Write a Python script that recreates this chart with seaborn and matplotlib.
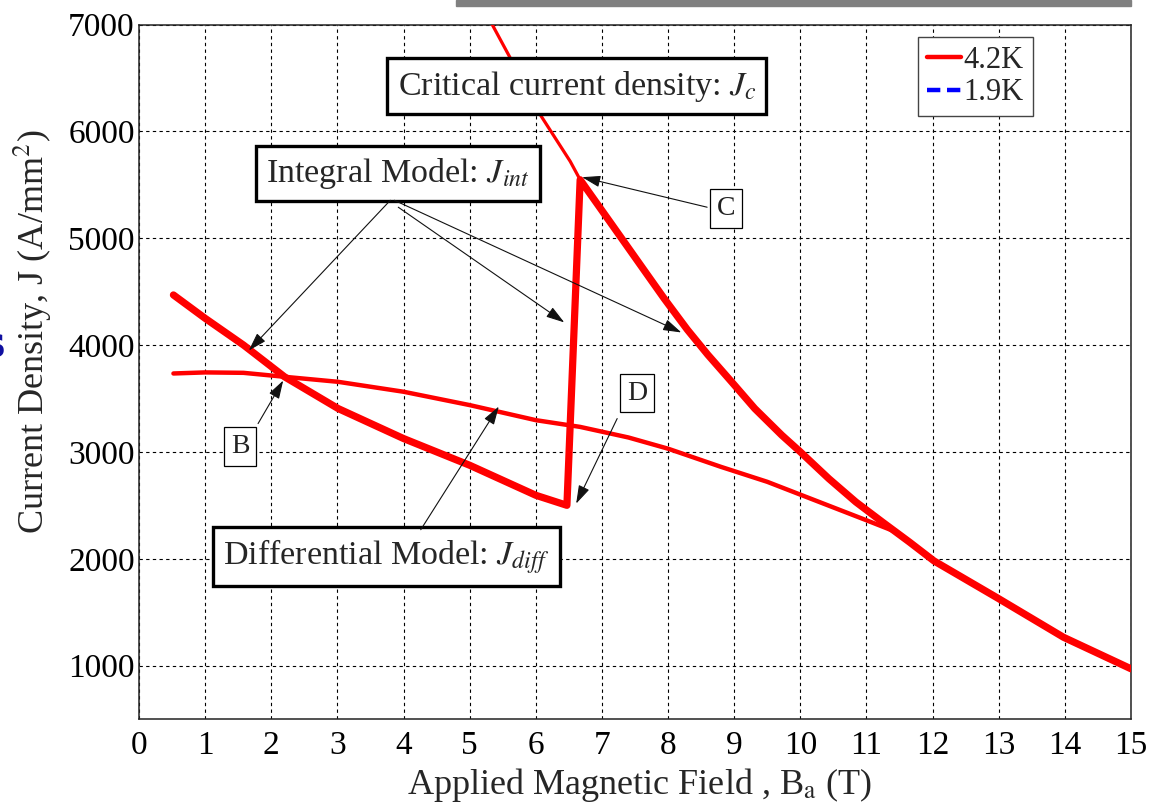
import matplotlib
matplotlib.use("Agg")
import matplotlib.pyplot as plt
from matplotlib.lines import Line2D
from matplotlib.patches import Rectangle
import pandas as pd
import seaborn as sns

# Applied field (T) and current density (A/mm^2) at 4.2 K
jc_field = [5.34, 5.64, 6.05, 6.52, 6.67, 7.13, 7.63, 7.94, 8.29, 8.60,
            8.96, 9.31, 9.72, 10.0, 10.43, 10.84, 11.24, 11.65, 12.02,
            12.97, 13.98, 15.0]
jc_density = [7000, 6656, 6172, 5719, 5547, 5145, 4707, 4436, 4145, 3910,
              3656, 3406, 3156, 3000, 2750, 2531, 2344, 2156, 1980,
              1637, 1265, 970]

int_field = [0.52, 1.0, 1.58, 2.2, 3.01, 4.0, 5.0, 6.0, 6.47, 6.67,
             7.13, 7.63, 7.94, 8.29, 8.60, 8.96, 9.31, 9.72, 10.0, 10.43,
             10.84, 11.24, 11.65, 12.02, 12.97, 13.98, 15.0]
int_density = [4469, 4250, 4000, 3703, 3406, 3125, 2875, 2594, 2500, 5547,
               5145, 4707, 4436, 4145, 3910, 3656, 3406, 3156, 3000, 2750,
               2531, 2344, 2156, 1980, 1637, 1265, 970]

diff_field = [0.52, 1.0, 1.58, 2.2, 3.01, 4.0, 5.0, 6.0, 6.67, 7.4, 8.0,
              8.8, 9.5, 10.0, 10.5, 11.0, 11.45, 11.65, 12.02, 12.97,
              13.98, 15.0]
diff_density = [3734, 3744, 3740, 3703, 3656, 3563, 3438, 3297, 3234, 3135,
                3030, 2860, 2720, 2600, 2480, 2360, 2250, 2156, 1980, 1637,
                1265, 970]

x_ticks = list(range(0, 16))
y_ticks = [1000, 2000, 3000, 4000, 5000, 6000, 7000]
legend_labels = ["4.2K", "1.9K"]

sns.set_theme(style="white")
plt.rcParams["font.family"] = ["Liberation Serif", "DejaVu Serif"]
plt.rcParams["mathtext.fontset"] = "stix"

fig = plt.figure(figsize=(11.5, 8.06), dpi=100)
ax = fig.add_axes([0.1209, 0.1079, 0.8626, 0.8617])

red = "#ff0000"
jc_df = pd.DataFrame({"B": jc_field, "J": jc_density})
int_df = pd.DataFrame({"B": int_field, "J": int_density})
diff_df = pd.DataFrame({"B": diff_field, "J": diff_density})

sns.lineplot(data=jc_df, x="B", y="J", ax=ax, color=red, lw=2.3,
             sort=False, estimator=None, zorder=3)
sns.lineplot(data=diff_df, x="B", y="J", ax=ax, color=red, lw=3.2,
             sort=False, estimator=None, zorder=3)
sns.lineplot(data=int_df, x="B", y="J", ax=ax, color=red, lw=5.2,
             sort=False, estimator=None, zorder=4)

ax.set_xlim(0, 15)
ax.set_ylim(500, 7000)
ax.set_xticks(x_ticks)
ax.set_yticks(y_ticks)
ax.set_xticklabels([str(t) for t in x_ticks])
ax.set_yticklabels([str(t) for t in y_ticks])
ax.tick_params(axis="both", direction="in", length=4, width=0.8,
               labelsize=24, colors="black")
ax.tick_params(axis="x", pad=8)
ax.tick_params(axis="y", pad=3)

ax.grid(True, color="black", lw=0.8, linestyle=(0, (3, 3)))
for s in ax.spines.values():
    s.set_color("#222222")
    s.set_linewidth(1.1)

ax.set_xlabel("")
ax.set_ylabel("")
fig.text(640 / 1150, 1 - 785 / 806,
         "Applied Magnetic Field , B$_\\mathrm{a}$ (T)", fontsize=26,
         ha="center", va="center")
fig.text(33 / 1150, 1 - 332 / 806, "Current Density, J (A/mm$^2$)",
         fontsize=26, rotation=90, ha="center", va="center")

# Labelled boxes
big_box = dict(boxstyle="square,pad=0.3", fc="white", ec="black", lw=2.4)
small_box = dict(boxstyle="square,pad=0.25", fc="white", ec="black", lw=0.9)
ax.text(6.62, 6424, "Critical current density: $J_c$", fontsize=24.5,
        ha="center", va="center", bbox=big_box, zorder=6)
ax.text(3.92, 5608, "Integral Model: $J_{int}$", fontsize=24.5,
        ha="center", va="center", bbox=big_box, zorder=6)
ax.text(3.74, 2023, "Differential Model: $J_{diff}$", fontsize=24.5,
        ha="center", va="center", bbox=big_box, zorder=6)
ax.text(1.53, 3054, "B", fontsize=20, ha="center", va="center",
        bbox=small_box, zorder=6, color="#222222")
ax.text(8.88, 5280, "C", fontsize=20, ha="center", va="center",
        bbox=small_box, zorder=6, color="#222222")
ax.text(7.53, 3551, "D", fontsize=20, ha="center", va="center",
        bbox=small_box, zorder=6, color="#222222")

# Pointer arrows: (start, tip)
arrows = [
    ((3.80, 5355), (1.66, 3949)),
    ((3.92, 5290), (6.43, 4212)),
    ((3.86, 5355), (8.20, 4118)),
    ((1.80, 3265), (2.18, 3668)),
    ((4.26, 2272), (5.44, 3425)),
    ((8.59, 5290), (6.70, 5571)),
    ((7.23, 3312), (6.61, 2516)),
]
for start, tip in arrows:
    ax.annotate("", xy=tip, xytext=start,
                arrowprops=dict(arrowstyle="-|>,head_length=0.8,head_width=0.25",
                                color="#111111", lw=0.8, mutation_scale=14,
                                shrinkA=0, shrinkB=0),
                zorder=7)

handles = [Line2D([], [], color=red, lw=3.2, linestyle="-"),
           Line2D([], [], color="#0000ff", lw=3.2, linestyle=(0, (3, 1.5)))]
leg = ax.legend(handles, legend_labels, loc="upper left",
                bbox_to_anchor=(0.785, 0.982), borderaxespad=0,
                fontsize=22, handlelength=1.1, handletextpad=0.1,
                labelspacing=0.1, borderpad=0.3, fancybox=False,
                frameon=True, edgecolor="#444444", framealpha=1)
leg.get_frame().set_linewidth(1.0)
leg.set_zorder(8)

# Page edge details
fig.patches.append(Rectangle((0.3965, 0.9926), 0.587, 0.0074,
                             transform=fig.transFigure, color="#808080",
                             zorder=0))
fig.text(6 / 1150, 1 - 346 / 806, "s", fontsize=30, fontweight="bold",
         color="#1010a0", ha="right", va="center", family="DejaVu Sans")

fig.savefig("out.png", dpi=100, facecolor="white")
